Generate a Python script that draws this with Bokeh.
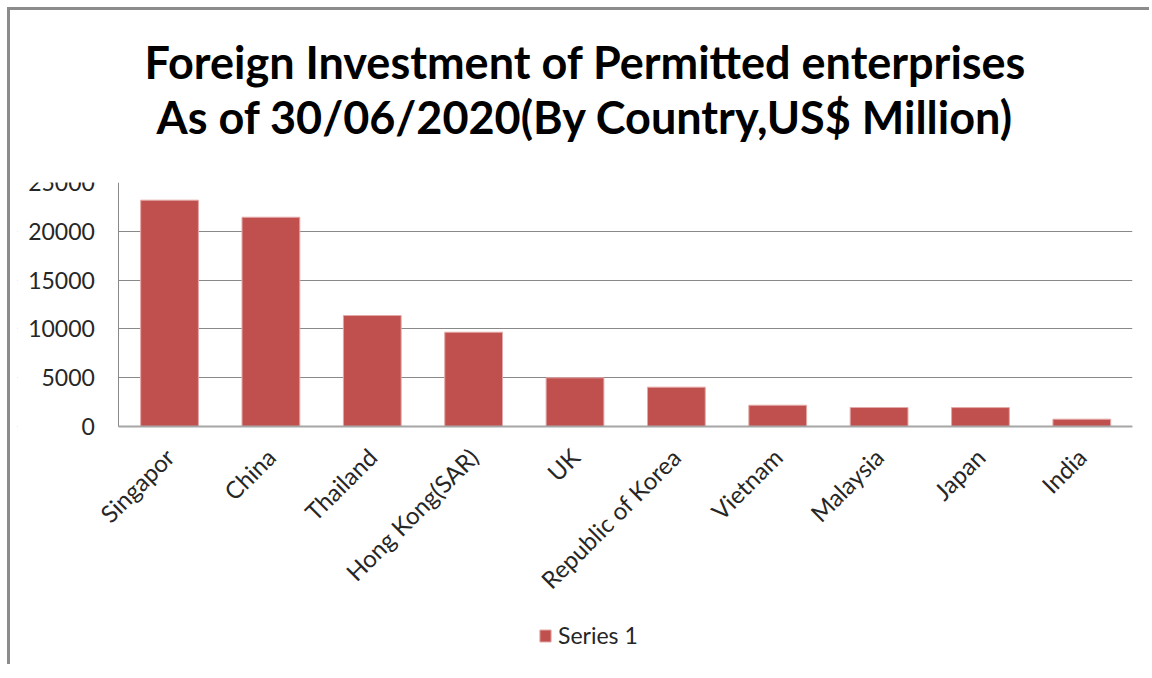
from math import pi
from bokeh.plotting import figure
from bokeh.models import (Range1d, FactorRange, FixedTicker, Title, Legend, LegendItem,
                          ColumnDataSource, BoxAnnotation)
from bokeh.embed import file_html
from bokeh.resources import INLINE

countries = ["Singapor", "China", "Thailand", "Hong Kong(SAR)", "UK", "Republic of Korea",
             "Vietnam", "Malaysia", "Japan", "India"]
investment = [23190, 21440, 11370, 9660, 4990, 4030, 2180, 1950, 1940, 750]
y_ticks = [0, 5000, 10000, 15000, 20000, 25000]
title_lines = ["Foreign Investment of Permitted enterprises",
               "As of 30/06/2020(By Country,US$ Million)"]
series_name = "Series 1"

FONT = "Lato"
TXT = "#262626"
GRID = "#898989"
BAR = "#C0504D"

# a blank leading factor leaves room for the value labels inside the frame
factors = [" "] + countries
n = len(countries)

p = figure(frame_width=1115, frame_height=482,
           x_range=FactorRange(factors=factors, range_padding=0),
           y_range=Range1d(-24385, 25000), output_backend="svg", toolbar_location=None,
           min_border_left=7, min_border_right=17, min_border_top=172, min_border_bottom=0)
p.styles = {"margin-left": "7px", "margin-top": "7px",
            "border-left": "3px solid #8c8c8c", "border-top": "3px solid #8c8c8c"}
p.outline_line_color = None
p.background_fill_color = "white"
p.border_fill_color = "white"

p.ygrid.grid_line_color = GRID
p.xgrid.grid_line_color = None
# hide the gridlines left of the value axis
p.add_layout(BoxAnnotation(right=1, fill_color="white", fill_alpha=1, line_color=None,
                           level="underlay"))

src = ColumnDataSource(dict(x=countries, top=investment))
r = p.vbar(x="x", top="top", width=0.57, source=src, fill_color=BAR, line_color="#e3a9a8",
           line_width=1)

p.yaxis.ticker = FixedTicker(ticks=y_ticks)
p.yaxis.bounds = (0, 25000)
p.yaxis.fixed_location = 1
p.xaxis.fixed_location = 0
p.xaxis.bounds = (1, 1 + n)
for ax in (p.xaxis, p.yaxis):
    ax.major_tick_line_color = None
    ax.minor_tick_line_color = None
    ax.major_tick_out = 0
    ax.major_tick_in = 0
    ax.axis_line_color = GRID
    ax.major_label_text_font = FONT
    ax.major_label_text_font_size = "23px"
    ax.major_label_text_color = TXT
p.yaxis.major_label_standoff = 24
p.xaxis.major_label_orientation = pi / 4
p.xaxis.major_label_standoff = 26
p.xaxis.major_label_text_font_size = "24px"
p.xaxis.axis_line_color = "#a6a6a6"
p.xaxis.axis_line_width = 2

for t, s, off in zip(reversed(title_lines), [78, -80], [139, 127]):
    p.add_layout(Title(text=t, align="left", offset=off, standoff=s, text_font=FONT,
                       text_font_style="bold", text_font_size="45px", text_color="black"),
                 "above")

legend = Legend(items=[LegendItem(label=series_name, renderers=[r])], location=(521, 15),
                padding=0, margin=0, border_line_color=None, background_fill_alpha=0,
                glyph_width=14, glyph_height=15, label_height=15,
                label_standoff=6, label_text_font=FONT, label_text_font_size="23px",
                label_text_color=TXT)
p.add_layout(legend, "center")

open("out.html", "w").write(file_html(p, INLINE))
